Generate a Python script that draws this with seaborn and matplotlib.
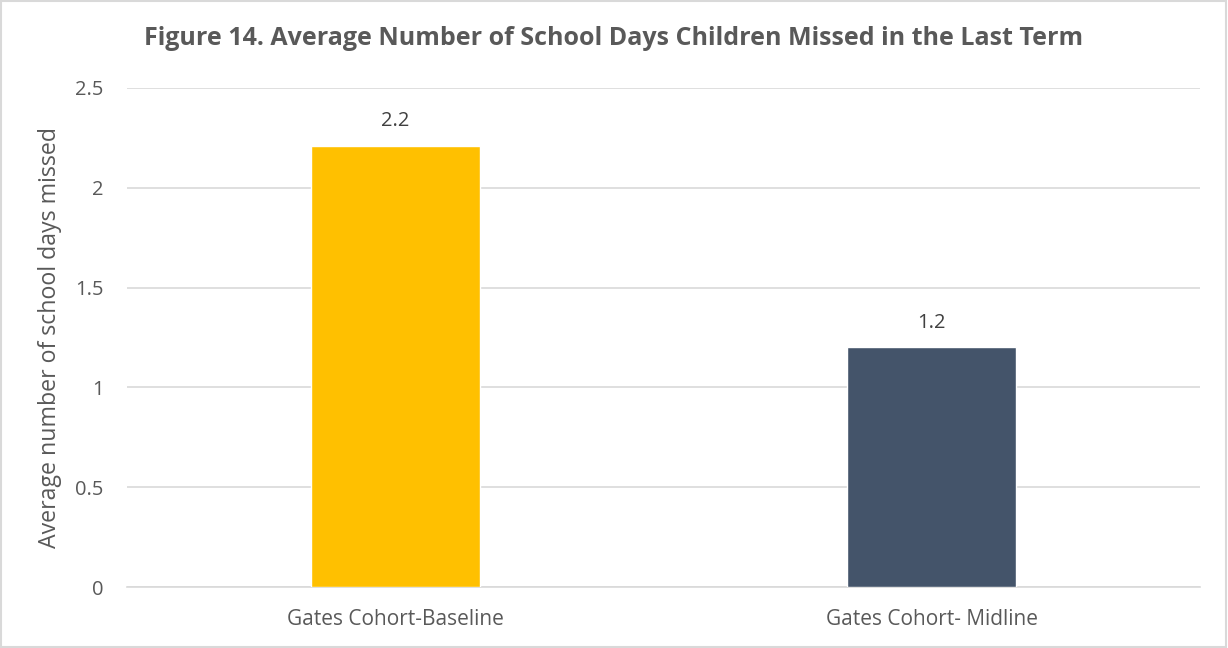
import matplotlib
matplotlib.use("Agg")
import matplotlib.pyplot as plt
import seaborn as sns
import pandas as pd

categories = ["Gates Cohort-Baseline", "Gates Cohort- Midline"]
values = [2.21, 1.2]
labels = ["2.2", "1.2"]
colors = ["#FFC000", "#44546A"]

sns.set_theme(style="white")
plt.rcParams['font.family'] = ['Open Sans', 'DejaVu Sans']

df = pd.DataFrame({"cat": categories, "val": values})
fig = plt.figure(figsize=(12.28, 6.48), dpi=100)
ax = fig.add_axes([0.1034, 0.0941, 0.8738, 0.7701])
sns.barplot(data=df, x="cat", y="val", hue="cat", palette=colors, width=0.315,
            saturation=1, legend=False, ax=ax, zorder=3)
ax.set_xlim(-0.5, 1.5)
ax.set_ylim(0, 2.5)
ax.set_yticks([0, 0.5, 1, 1.5, 2, 2.5])
ax.set_yticklabels(["0", "0.5", "1", "1.5", "2", "2.5"])
ax.yaxis.grid(True, color="#D9D9D9", linewidth=1.2, zorder=0)
for s in ["top", "right", "left"]:
    ax.spines[s].set_visible(False)
ax.spines["bottom"].set_color("#D9D9D9")
ax.spines["bottom"].set_linewidth(1.2)
ax.tick_params(axis="both", length=0, colors="#595959")
ax.tick_params(axis="x", labelsize=15, pad=16)
ax.tick_params(axis="y", labelsize=14.5, pad=17)
ax.set_xlabel("")
ax.set_ylabel("Average number of school days missed", fontsize=16.7, color="#595959", labelpad=9)
for p, lab in zip(ax.patches, labels):
    ax.text(p.get_x() + p.get_width() / 2, p.get_height() + 0.125, lab,
            ha="center", va="center", fontsize=14.5, color="#404040")
fig.text(0.5, 0.941, "Figure 14. Average Number of School Days Children Missed in the Last Term",
         ha="center", va="center", fontsize=18, fontweight="bold", color="#595959")
border = plt.Rectangle((0.001, 0.001), 0.997, 0.997, transform=fig.transFigure,
                       fill=False, edgecolor="#D9D9D9", linewidth=1.5)
fig.patches.append(border)
fig.savefig("out.png", dpi=100)
